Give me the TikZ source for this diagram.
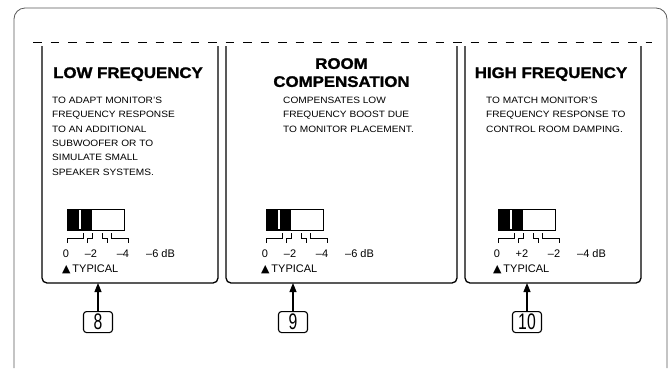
\documentclass[tikz,border=0pt]{standalone}
\usepackage{fontspec}
\setmainfont{Liberation Sans}
\newfontfamily\headfont{Liberation Sans}[FakeStretch=1.1, BoldFeatures={FakeBold=1.4}]
\newfontfamily\blurbfont{Liberation Sans}[FakeStretch=1.1]
\newfontfamily\numfont{Liberation Sans}[FakeStretch=0.7]
\newfontfamily\symfont{DejaVu Sans}
\usetikzlibrary{arrows.meta, positioning}
\newcommand{\Typical}{{\symfont ▲}\,TYPICAL}
\newcommand{\DipSwitch}[6]{%
  \begin{scope}[shift={#1}]
    \fill (0,0) rectangle (25,21);
    \draw[white, line width=1.6pt] (13,1) -- (13,20);
    \draw[line width=0.8pt] (0,0) rectangle (57,21);
    \draw[line width=0.7pt] (0,34) -- (0,29) -- (16,29) -- (16,24)
      (20,34) -- (20,29) -- (25,29) -- (25,24)
      (35,24) -- (35,29) -- (40,29) -- (40,34)
      (44,24) -- (44,29) -- (61,29) -- (61,34);
    \node[dbmark] (#2a) at (-1,48) {#3};
    \node[dbmark] (#2b) at (24,48) {#4};
    \node[dbmark] (#2c) at (56,48) {#5};
    \node[dbmark, anchor=base west] (#2d) at (79,48) {#6};
    \node[dbmark, anchor=base west] (#2t) at (-5,63) {\Typical};
  \end{scope}}

\begin{document}
\begin{tikzpicture}[x=1pt, y=-1pt, >={Triangle[length=9pt,width=7pt]},
    outerframe/.style={draw=black!65, line width=0.8pt, rounded corners=11pt},
    panel/.style={line width=1.3pt, rounded corners=5pt},
    cutline/.style={line width=1pt, dash pattern=on 8.5pt off 9pt},
    heading/.style={font=\headfont\bfseries\fontsize{15.3}{18}\selectfont, inner sep=0},
    blurb/.style={font=\blurbfont\fontsize{9.2}{14.3}\selectfont, align=left, inner sep=0, anchor=north west},
    dbmark/.style={font=\fontsize{11}{13}\selectfont, inner sep=0, anchor=base},
    numbox/.style={draw, line width=1.1pt, rounded corners=3pt, minimum width=29pt,
      minimum height=21pt, inner sep=0, font=\numfont\fontsize{22.5}{22.5}\selectfont}]
  \useasboundingbox (0,0) rectangle (670,368);
  \draw[outerframe] (14,368) -- (14,8) -- (667,8) -- (667,368);
  \draw[cutline] (33,42) -- (652,42);

  \draw[panel] (42,46) -- (42,283) -- (218,283) -- (218,46);
  \draw[panel] (226,46) -- (226,283) -- (457,283) -- (457,46);
  \draw[panel] (465,46) -- (465,283) -- (641,283) -- (641,46);

  \node[heading, anchor=base] (lfHead) at (128,78) {LOW FREQUENCY};
  \node[blurb] (lfText) at (52,97) {TO ADAPT MONITOR’S\\FREQUENCY RESPONSE\\TO AN ADDITIONAL\\SUBWOOFER OR TO\\SIMULATE SMALL\\SPEAKER SYSTEMS.};
  \node[heading, align=center, anchor=north] (rcHead) at (341.5,58) {ROOM\\COMPENSATION};
  \node[blurb] (rcText) at (283,97) {COMPENSATES LOW\\FREQUENCY BOOST DUE\\TO MONITOR PLACEMENT.};
  \node[heading, anchor=base] (hfHead) at (551,78) {HIGH FREQUENCY};
  \node[blurb] (hfText) at (486,97) {TO MATCH MONITOR’S\\FREQUENCY RESPONSE TO\\CONTROL ROOM DAMPING.};

  \DipSwitch{(67,209)}{lf}{0}{–2}{–4}{–6 dB}
  \DipSwitch{(266,209)}{rc}{0}{–2}{–4}{–6 dB}
  \DipSwitch{(498,209)}{hf}{0}{+2}{–2}{–4 dB}

  \coordinate (lf) at (98,283);
  \coordinate (rc) at (293,283);
  \coordinate (hf) at (527,283);
  \node[numbox, below=28pt of lf] (8) {8};
  \node[numbox, below=28pt of rc] (9) {9};
  \node[numbox, below=28pt of hf] (10) {10};
  \draw[->, line width=1.1pt] (8) -- (lf);
  \draw[->, line width=1.1pt] (9) -- (rc);
  \draw[->, line width=1.1pt] (10) -- (hf);
\end{tikzpicture}
\end{document}
